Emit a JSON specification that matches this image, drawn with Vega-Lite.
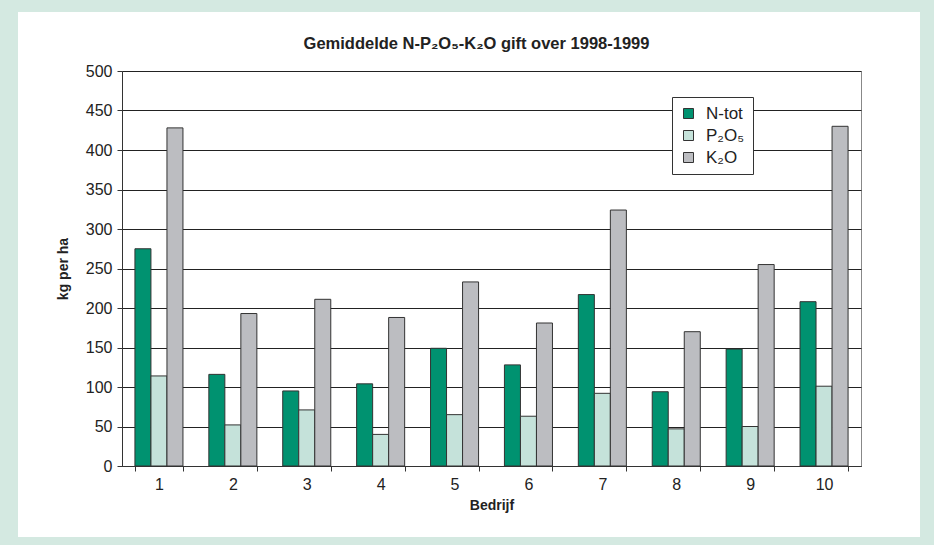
{
  "$schema": "https://vega.github.io/schema/vega-lite/v6.json",
  "autosize": "none",
  "width": 739,
  "height": 395,
  "padding": {"left": 122, "top": 71, "right": 73, "bottom": 79},
  "background": "white",
  "title": {
    "text": "Gemiddelde N-P₂O₅-K₂O gift over 1998-1999",
    "font": "Liberation Sans",
    "fontSize": 16.5,
    "fontWeight": "bold",
    "color": "#222222",
    "anchor": "middle",
    "dx": -15,
    "offset": 0,
    "dy": 58
  },
  "config": {
    "view": {"stroke": "#888888", "strokeWidth": 1},
    "font": "Liberation Sans"
  },
  "layer": [
    {
      "data": {
        "values": [
          {"Bedrijf": "1", "Soort": "N-tot", "kg": 275},
          {"Bedrijf": "1", "Soort": "P₂O₅", "kg": 114},
          {"Bedrijf": "1", "Soort": "K₂O", "kg": 428},
          {"Bedrijf": "2", "Soort": "N-tot", "kg": 116},
          {"Bedrijf": "2", "Soort": "P₂O₅", "kg": 52},
          {"Bedrijf": "2", "Soort": "K₂O", "kg": 193},
          {"Bedrijf": "3", "Soort": "N-tot", "kg": 95},
          {"Bedrijf": "3", "Soort": "P₂O₅", "kg": 71},
          {"Bedrijf": "3", "Soort": "K₂O", "kg": 211},
          {"Bedrijf": "4", "Soort": "N-tot", "kg": 104},
          {"Bedrijf": "4", "Soort": "P₂O₅", "kg": 40},
          {"Bedrijf": "4", "Soort": "K₂O", "kg": 188},
          {"Bedrijf": "5", "Soort": "N-tot", "kg": 149},
          {"Bedrijf": "5", "Soort": "P₂O₅", "kg": 65},
          {"Bedrijf": "5", "Soort": "K₂O", "kg": 233},
          {"Bedrijf": "6", "Soort": "N-tot", "kg": 128},
          {"Bedrijf": "6", "Soort": "P₂O₅", "kg": 63},
          {"Bedrijf": "6", "Soort": "K₂O", "kg": 181},
          {"Bedrijf": "7", "Soort": "N-tot", "kg": 217},
          {"Bedrijf": "7", "Soort": "P₂O₅", "kg": 92},
          {"Bedrijf": "7", "Soort": "K₂O", "kg": 324},
          {"Bedrijf": "8", "Soort": "N-tot", "kg": 94},
          {"Bedrijf": "8", "Soort": "P₂O₅", "kg": 47},
          {"Bedrijf": "8", "Soort": "K₂O", "kg": 170},
          {"Bedrijf": "9", "Soort": "N-tot", "kg": 148},
          {"Bedrijf": "9", "Soort": "P₂O₅", "kg": 50},
          {"Bedrijf": "9", "Soort": "K₂O", "kg": 255},
          {"Bedrijf": "10", "Soort": "N-tot", "kg": 208},
          {"Bedrijf": "10", "Soort": "P₂O₅", "kg": 101},
          {"Bedrijf": "10", "Soort": "K₂O", "kg": 430}
        ]
      },
      "mark": {"type": "bar", "stroke": "#333333", "strokeWidth": 1},
      "encoding": {
        "x": {
          "field": "Bedrijf",
          "type": "ordinal",
          "sort": ["1","2","3","4","5","6","7","8","9","10"],
          "scale": {"paddingInner": 0.35, "paddingOuter": 0.175},
          "axis": {
            "title": "Bedrijf",
            "titleFont": "Liberation Sans",
            "titleFontSize": 14,
            "titleFontWeight": "bold",
            "titleColor": "#222222",
            "titlePadding": 6,
            "labelAngle": 0,
            "labelFontSize": 16,
            "labelColor": "#222222",
            "labelPadding": 5,
            "tickBand": "extent",
            "tickSize": 5,
            "tickColor": "#333333",
            "domainColor": "#333333",
            "grid": false
          }
        },
        "xOffset": {
          "field": "Soort",
          "type": "nominal",
          "sort": ["N-tot", "P₂O₅", "K₂O"],
          "scale": {"paddingInner": 0, "paddingOuter": 0}
        },
        "y": {
          "field": "kg",
          "type": "quantitative",
          "scale": {"domain": [0, 500], "nice": false},
          "axis": {
            "title": "kg per ha",
            "titleFont": "Liberation Sans",
            "titleFontSize": 14,
            "titleFontWeight": "bold",
            "titleColor": "#222222",
            "titlePadding": 15,
            "values": [0, 50, 100, 150, 200, 250, 300, 350, 400, 450, 500],
            "labelFontSize": 16,
            "labelColor": "#222222",
            "labelPadding": 5,
            "tickSize": 5,
            "tickColor": "#333333",
            "domainColor": "#333333",
            "grid": true,
            "gridColor": "#222222",
            "gridOpacity": 1
          }
        },
        "color": {
          "field": "Soort",
          "type": "nominal",
          "sort": ["N-tot", "P₂O₅", "K₂O"],
          "scale": {"domain": ["N-tot", "P₂O₅", "K₂O"], "range": ["#009270", "#c5e2da", "#bcbdc1"]},
          "legend": {
            "title": null,
            "orient": "none",
            "legendX": 550,
            "legendY": 26,
            "fillColor": "white",
            "strokeColor": "#333333",
            "padding": 8,
            "symbolType": "square",
            "symbolSize": 100,
            "symbolStrokeColor": "#333333",
            "symbolStrokeWidth": 1,
            "labelFontSize": 17,
            "labelColor": "#222222",
            "rowPadding": 4,
            "labelOffset": 9
          }
        }
      }
    },
    {
      "data": {"values": [{}]},
      "mark": {"type": "rect", "x": -113, "x2": 807, "y": -68, "y2": 475, "fill": null, "fillOpacity": 0, "stroke": "#d4e9e1", "strokeWidth": 18, "clip": false},
      "encoding": {}
    }
  ]
}
